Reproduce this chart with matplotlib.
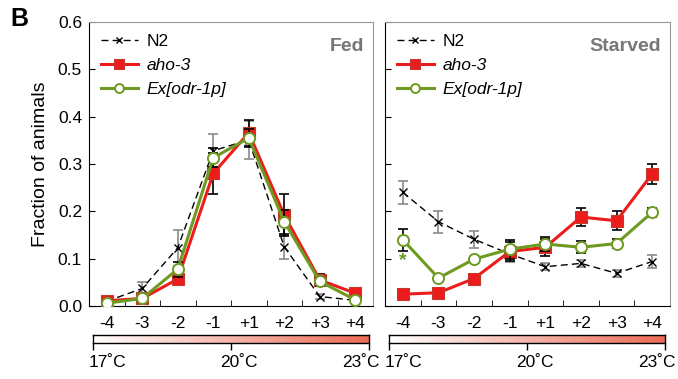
import matplotlib.pyplot as plt
import numpy as np
from matplotlib.colors import LinearSegmentedColormap

plt.rcParams['font.family'] = ['Liberation Sans', 'DejaVu Sans']

offsets = ['-4', '-3', '-2', '-1', '+1', '+2', '+3', '+4']

# Fed
fed_n2 = [0.010, 0.037, 0.123, 0.328, 0.351, 0.125, 0.020, 0.012]
fed_n2_err = [0.004, 0.013, 0.038, 0.035, 0.040, 0.026, 0.006, 0.004]
fed_aho3 = [0.011, 0.016, 0.057, 0.280, 0.366, 0.192, 0.055, 0.027]
fed_aho3_err = [0.004, 0.004, 0.013, 0.043, 0.027, 0.045, 0.012, 0.004]
fed_odr1 = [0.006, 0.016, 0.078, 0.313, 0.355, 0.178, 0.052, 0.013]
fed_odr1_err = [0.003, 0.004, 0.016, 0.020, 0.020, 0.025, 0.010, 0.004]

# Starved
st_n2 = [0.240, 0.178, 0.141, 0.110, 0.083, 0.090, 0.069, 0.094]
st_n2_err = [0.025, 0.023, 0.018, 0.016, 0.007, 0.008, 0.008, 0.013]
st_aho3 = [0.025, 0.028, 0.058, 0.115, 0.124, 0.188, 0.180, 0.279]
st_aho3_err = [0.004, 0.004, 0.008, 0.020, 0.018, 0.019, 0.020, 0.021]
st_odr1 = [0.140, 0.059, 0.099, 0.120, 0.131, 0.124, 0.132, 0.198]
st_odr1_err = [0.023, 0.004, 0.005, 0.020, 0.014, 0.013, 0.010, 0.010]

temps = ['17˚C', '20˚C', '23˚C']

RED = '#ED1C1C'
GREEN = '#6E9A22'
GREY = '#999999'
x = np.arange(len(offsets))

fig = plt.figure(figsize=(6.78, 3.79), dpi=100)
ax1 = fig.add_axes([89/678, 73/379, 284/678, 284/379])
ax2 = fig.add_axes([385/678, 73/379, 285/678, 284/379])


def panel(ax, n2, n2e, aho, ahoe, odr, odre, title):
    ax.errorbar(x, n2, yerr=n2e, fmt='none', ecolor='#8a8a8a', elinewidth=1.2,
                capsize=3.5, capthick=1.2, zorder=2)
    ax.plot(x, n2, color='black', ls=(0, (5, 3)), lw=1.0, marker='x',
            ms=6, mew=1.0, label='N2', zorder=3)
    ax.errorbar(x, aho, yerr=ahoe, fmt='none', ecolor='black', elinewidth=1.2,
                capsize=3.5, capthick=1.2, zorder=4)
    ax.plot(x, aho, color=RED, lw=2.2, marker='s', ms=8.5, mfc=RED,
            mec='#C0392B', mew=0.8, label='aho-3', zorder=5)
    ax.errorbar(x, odr, yerr=odre, fmt='none', ecolor='black', elinewidth=1.2,
                capsize=3.5, capthick=1.2, zorder=6)
    ax.plot(x, odr, color=GREEN, lw=2.2, marker='o', ms=8, mfc='white',
            mec=GREEN, mew=1.4, label='Ex[odr-1p]', zorder=7)

    ax.set_xlim(-0.5, 7.5)
    ax.set_ylim(0, 0.6)
    ax.set_xticks(x)
    ax.set_xticklabels(offsets, fontsize=12.5)
    ax.set_xticks(x[:-1] + 0.5, minor=True)
    ax.tick_params(axis='x', which='major', length=0, pad=7)
    ax.tick_params(axis='x', which='minor', direction='in', length=4)
    ax.set_yticks(np.arange(0, 0.61, 0.1))
    ax.tick_params(axis='y', direction='in', length=4, labelsize=12.5, pad=5)
    for s in ('top', 'right'):
        ax.spines[s].set_color(GREY)
    for s in ('left', 'bottom'):
        ax.spines[s].set_color('black')
    ax.text(0.97, 0.915, title, transform=ax.transAxes, ha='right', va='center',
            fontsize=14, fontweight='bold', color='#777777')

    leg = ax.legend(loc='upper left', frameon=False, fontsize=12.5,
                    handlelength=2.1, handletextpad=0.5, labelspacing=0.5,
                    borderaxespad=0.3, markerscale=0.8)
    for t in leg.get_texts()[1:]:
        t.set_style('italic')


panel(ax1, fed_n2, fed_n2_err, fed_aho3, fed_aho3_err, fed_odr1, fed_odr1_err, 'Fed')
ax1.yaxis.set_major_formatter(plt.FuncFormatter(lambda v, p: f'{v:.1f}'))
ax1.set_ylabel('Fraction of animals', fontsize=14, labelpad=6)

panel(ax2, st_n2, st_n2_err, st_aho3, st_aho3_err, st_odr1, st_odr1_err, 'Starved')
ax2.set_yticklabels([])
ax2.text(0, 0.095, '*', ha='center', va='center', color=GREEN,
         fontsize=14, fontweight='bold')

fig.text(10/678, 1 - 19/379, 'B', fontsize=18, fontweight='bold',
         ha='left', va='center')

# temperature gradient bars
cmap = LinearSegmentedColormap.from_list('temp', ['white', '#EC6B55'])
grad = np.linspace(0, 1, 256).reshape(1, -1)
for left, width in ((93, 276), (389, 276)):
    cax = fig.add_axes([left/678, 36/379, width/678, 8/379])
    cax.imshow(grad, aspect='auto', cmap=cmap, extent=(0, 1, 0, 1))
    cax.set_xlim(0, 1)
    cax.set_yticks([])
    cax.set_xticks([0, 0.5, 1])
    cax.set_xticklabels([])
    cax.tick_params(axis='x', direction='out', length=5, width=1)
    for s in cax.spines.values():
        s.set_linewidth(1.0)
    cax.text(-0.015, -1.5, temps[0], transform=cax.transAxes, ha='left',
             va='top', fontsize=12.5)
    cax.text(0.53, -1.5, temps[1], transform=cax.transAxes, ha='center',
             va='top', fontsize=12.5)
    cax.text(1.04, -1.5, temps[2], transform=cax.transAxes, ha='right',
             va='top', fontsize=12.5)

fig.savefig('out.png', dpi=100)
